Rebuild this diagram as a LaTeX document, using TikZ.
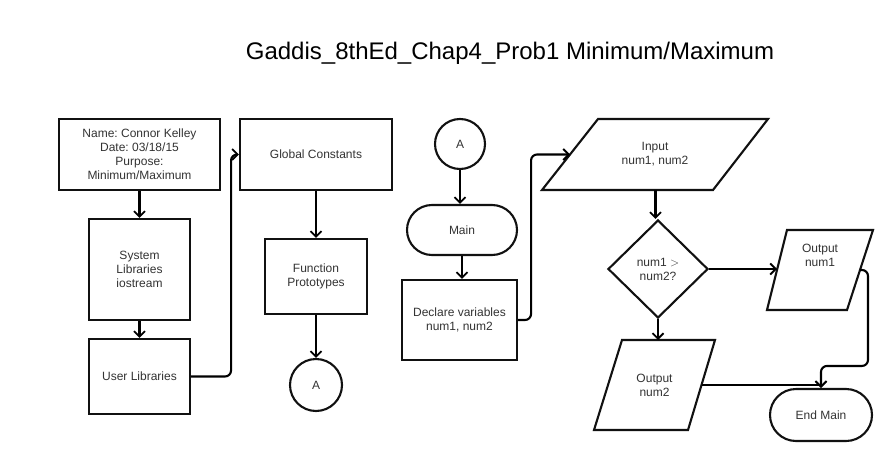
\documentclass[tikz,border=0pt]{standalone}
\usepackage{fontspec}
\setmainfont{Liberation Sans}
\usetikzlibrary{shapes.geometric,arrows.meta}
\definecolor{txt}{HTML}{333333}
\definecolor{bd}{HTML}{111111}
\frenchspacing
\begin{document}
\begin{tikzpicture}[x=1pt,y=-1pt,
  every node/.style={text=txt,font=\fontsize{12}{14}\selectfont,align=center,inner sep=0pt},
  shp/.style={draw=bd,line width=2.1pt,fill=white,line join=miter},
  rbox/.style={shp,rectangle},
  term/.style={shp,rectangle,rounded corners=25pt},
  conn/.style={draw=black,line width=2.1pt,-{Straight Barb[length=5.5pt,width=11pt,line width=1.8pt]}},
  dec/.style={shp,diamond},
  con/.style={shp,circle}
]
\useasboundingbox[fill=white] (0,0) rectangle (896,460);
\node[text=black,font=\fontsize{24}{28}\selectfont] (title) at (510,53) {Gaddis\_8thEd\_Chap4\_Prob1 Minimum/Maximum};

\node[rbox,minimum width=161pt,minimum height=71pt] (name) at (139.5,154.5) {Name: Connor Kelley\\Date: 03/18/15\\Purpose:\\Minimum/Maximum};
\node[rbox,minimum width=101pt,minimum height=101pt] (sys) at (139.5,269.5) {System\\Libraries\\iostream};
\node[rbox,minimum width=101pt,minimum height=75pt] (user) at (139.5,376.5) {User Libraries};

\node[rbox,minimum width=152pt,minimum height=71pt] (glob) at (316,154.5) {Global Constants};
\node[rbox,minimum width=102pt,minimum height=75pt] (func) at (316,276.5) {Function\\Prototypes};
\node[con,minimum size=52pt] (a1) at (316,385) {A};

\node[con,minimum size=50pt] (a2) at (460,144) {A};
\node[term,minimum width=110pt,minimum height=50pt] (main) at (462,230) {Main};
\node[rbox,minimum width=115pt,minimum height=80pt] (decl) at (459.5,320) {Declare variables\\num1, num2};

% parallelograms (input / output)
\draw[shp] (542,190) -- (598,119) -- (768,119) -- (713,190) -- cycle;
\node (in) at (655,154.5) {Input\\num1, num2};
\coordinate (inW) at (570,154.5);
\coordinate (inS) at (655.5,190);

\node[dec,minimum width=100pt,minimum height=98pt] (cmp) at (658,269) {num1 $>$\\num2?};

\draw[shp] (767,310) -- (787,230) -- (873,230) -- (847,310) -- cycle;
\node (o1) at (820,255.5) {Output\\num1};
\coordinate (o1W) at (777,270);
\coordinate (o1E) at (860,270);

\draw[shp] (594,430) -- (622,340) -- (715,340) -- (688,430) -- cycle;
\node (o2) at (654.5,385) {Output\\num2};
\coordinate (o2E) at (701.5,385);
\coordinate (o2N) at (668.5,340);

\node[term,rounded corners=26pt,minimum width=102pt,minimum height=52pt] (endm) at (821,415) {End Main};

\draw[conn] (name.south) -- (sys.north);
\draw[conn] (sys.south) -- (user.north);
\draw[conn,rounded corners=6pt] (user.east) -- ++(40,0) |- (glob.west);
\draw[conn] (glob.south) -- (func.north);
\draw[conn] (func.south) -- (a1.north);
\draw[conn] (a2.south) -- (a2.south |- main.north);
\draw[conn] (main.south) -- (main.south |- decl.north);
\draw[conn,rounded corners=6pt] (decl.east) -- ++(13,0) |- (inW);
\draw[conn] (inS) -- (inS |- cmp.north);
\draw[conn] (cmp.east) -- (cmp.east -| o1W);
\draw[conn] (cmp.south) -- (cmp.south |- o2N);
\draw[conn,rounded corners=6pt] (o1E) -- ++(8,0) |- ([yshift=22pt]endm.north) -- (endm.north);
\draw[conn] (o2E) -- (o2E -| endm.north) -- (endm.north);
\end{tikzpicture}
\end{document}
